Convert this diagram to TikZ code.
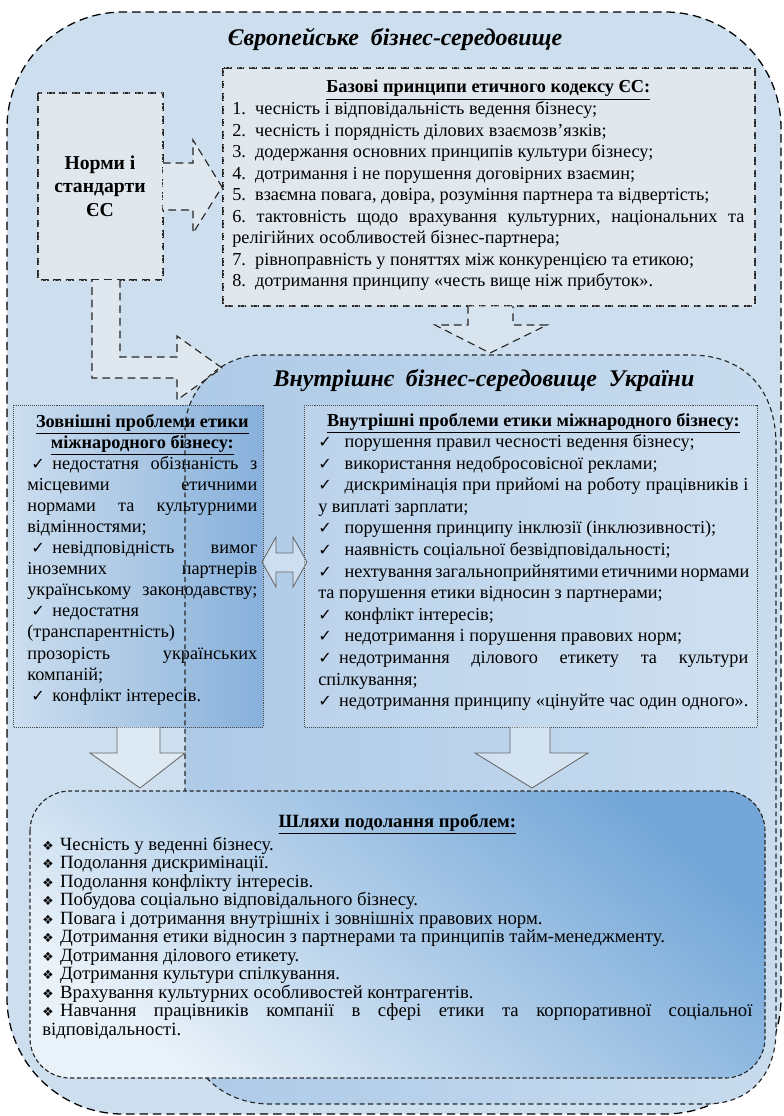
\documentclass[tikz,border=0pt]{standalone}
\usepackage{fontspec}
\setmainfont{Liberation Serif}
\newfontfamily\symfont{DejaVu Sans}
\usetikzlibrary{patterns}
\definecolor{envblue}{HTML}{CDDFEE}
\definecolor{boxgray}{HTML}{E0E8EF}
\definecolor{ukleft}{HTML}{ADCAE7}
\definecolor{ukright}{HTML}{C9DCEE}
\definecolor{leftlight}{HTML}{CCDEEF}
\definecolor{leftdark}{HTML}{84AEDA}
\definecolor{waysdark}{HTML}{74A7D8}
\definecolor{wayslight}{HTML}{EAF2F9}
\newcommand{\rs}{\frenchspacing\spaceskip=0pt\xspaceskip=0pt\relax}
\newcommand{\jline}[1]{\makebox[\linewidth][s]{#1}}
\newcommand{\ck}{{\symfont\fontsize{11.5}{10}\selectfont ✓}\hspace{0.4em}}
\newcommand{\dm}{{\symfont\fontsize{9}{9}\selectfont ❖}\hspace{0.35em}}
\begin{document}
\begin{tikzpicture}[x=0.025cm,y=-0.025cm,
  outerdash/.style={draw=black, line width=0.9pt, dash pattern=on 6pt off 3.5pt},
  ukdash/.style={draw=black!85, line width=0.8pt, dash pattern=on 3.5pt off 2.5pt},
  eudash/.style={draw=black!85, line width=0.8pt, dash pattern=on 5.5pt off 3.5pt},
  pathdash/.style={draw=black!85, line width=0.8pt, dash pattern=on 3pt off 1.8pt},
  dotbox/.style={draw=black!70, line width=0.6pt, dash pattern=on 0.7pt off 0.7pt},
  thinarrow/.style={draw=black!60, line width=0.6pt, fill=white, fill opacity=0.35},
  dots/.style={postaction={pattern=crosshatch dots, pattern color=black!10}},
  txt/.style={inner sep=0pt, anchor=base west, align=left},
  bigtitle/.style={inner sep=0pt, anchor=base, font=\fontsize{17}{20}\selectfont\bfseries\itshape},
]
\useasboundingbox (0,0) rectangle (783,1116);
% outer environment
\filldraw[fill=envblue, outerdash, rounded corners=2.9cm] (7,12) rectangle (781,1114);
\node[bigtitle] (eutitle) at (395,46) {Європейське\ \ бізнес-середовище};
% norms box
\filldraw[fill=boxgray, eudash, dots] (38,93) rectangle (163,280);
\node[inner sep=0pt, align=center, font=\fontsize{14}{16.8}\selectfont\bfseries] (norms) at (100,186) {Норми і\\стандарти\\ЄС};
% arrow norms -> EU principles
\filldraw[fill=boxgray, eudash] (163,163) -- (193,163) -- (193,140) -- (222,187) -- (193,233) -- (193,210) -- (163,210);
% EU principles box
\filldraw[fill=boxgray, eudash, dots] (223,68) rectangle (755,306);
\node[txt, text width=12.8cm, font=\fontsize{13}{15.3}\selectfont] (eutext) at (232,93) {\rs
\makebox[\linewidth][c]{\bfseries\underline{Базові принципи етичного кодексу ЄС:}}\\
1.\ \ чесність і відповідальність ведення бізнесу;\\
2.\ \ чесність і порядність ділових взаємозв’язків;\\
3.\ \ додержання основних принципів культури бізнесу;\\
4.\ \ дотримання і не порушення договірних взаємин;\\
5.\ \ взаємна повага, довіра, розуміння партнера та відвертість;\\
\jline{6. тактовність щодо врахування культурних, національних та}\\
релігійних особливостей бізнес-партнера;\\
7.\ \ рівноправність у поняттях між конкуренцією та етикою;\\
8.\ \ дотримання принципу «честь вище ніж прибуток».};
% Ukraine environment fill
\shade[left color=ukleft, right color=ukright]
  (185,430) .. controls (185,389) and (221,355) .. (262,355) -- (690,355)
  .. controls (745,355) and (776,390) .. (776,445) -- (776,1030)
  .. controls (776,1075) and (750,1104) .. (705,1104) -- (270,1104)
  .. controls (222,1104) and (185,1070) .. (185,1020) -- cycle;
% bent arrow norms -> Ukraine
\filldraw[fill=boxgray, eudash] (120,280) -- (120,357) -- (177,357) -- (177,336) -- (222,368) -- (177,400) -- (177,378) -- (92,378) -- (92,280);
% arrow EU principles -> Ukraine
\filldraw[fill=boxgray, fill opacity=0.6, eudash] (468,306) -- (468,325) -- (435,325) -- (490,353) -- (547,325) -- (513,325) -- (513,306);
\node[bigtitle] (uatitle) at (484,386) {Внутрішнє\ \ бізнес-середовище\ \ України};
% left box (external problems)
\shade[left color=leftlight, right color=leftdark, fill opacity=0.9] (13,405) rectangle (263,727);
\draw[dotbox] (13,405) rectangle (263,727);
% right box (internal problems)
\fill[white, fill opacity=0.12] (304,405) rectangle (757,727);
\draw[dotbox] (304,405) rectangle (757,727);
% double arrow
\filldraw[thinarrow] (262,562) -- (276,537) -- (276,553) -- (293,553) -- (293,537) -- (307,562) -- (293,587) -- (293,572) -- (276,572) -- (276,587) -- cycle;
% down arrows
\filldraw[thinarrow] (117,727) -- (117,753) -- (90,753) -- (140,788) -- (185,753) -- (160,753) -- (160,727);
\filldraw[thinarrow] (510,727) -- (510,753) -- (475,753) -- (532,788) -- (588,753) -- (550,753) -- (550,727);
% Ukraine environment outline
\draw[ukdash]
  (185,430) .. controls (185,389) and (221,355) .. (262,355) -- (690,355)
  .. controls (745,355) and (776,390) .. (776,445) -- (776,1030)
  .. controls (776,1075) and (750,1104) .. (705,1104) -- (270,1104)
  .. controls (222,1104) and (185,1070) .. (185,1020) -- cycle;
\node[txt, text width=5.75cm, font=\fontsize{13}{15.0}\selectfont] (lefttext) at (27,427) {\rs
\makebox[\linewidth][c]{\bfseries\underline{Зовнішні проблеми етики}}\\
\makebox[\linewidth][c]{\bfseries\underline{міжнародного бізнесу:}}\\
\jline{\hspace{3pt}\ck недостатня обізнаність з}\\
\jline{місцевими етичними}\\
\jline{нормами та культурними}\\
відмінностями;\\
\jline{\hspace{3pt}\ck невідповідність вимог}\\
\jline{іноземних партнерів}\\
\jline{українському законодавству;}\\
\hspace{3pt}\ck недостатня\\
(транспарентність)\\
\jline{прозорість українських}\\
компаній;\\
\hspace{3pt}\ck конфлікт інтересів.};
\node[txt, text width=10.75cm, font=\fontsize{13}{15.36}\selectfont] (righttext) at (318,426) {\rs
\makebox[\linewidth][c]{\bfseries\underline{Внутрішні проблеми етики міжнародного бізнесу:}}\\
\ck\hspace{0.3em}порушення правил чесності ведення бізнесу;\\
\ck\hspace{0.3em}використання недобросовісної реклами;\\
\jline{\ck\hspace{0.3em}дискримінація при прийомі на роботу працівників і}\\
у виплаті зарплати;\\
\ck\hspace{0.3em}порушення принципу інклюзії (інклюзивності);\\
\ck\hspace{0.3em}наявність соціальної безвідповідальності;\\
\jline{\ck\hspace{0.3em}нехтування загальноприйнятими етичними нормами}\\
та порушення етики відносин з партнерами;\\
\ck\hspace{0.3em}конфлікт інтересів;\\
\ck\hspace{0.3em}недотримання і порушення правових норм;\\
\jline{\ck недотримання ділового етикету та культури}\\
спілкування;\\
\jline{\ck недотримання принципу «цінуйте час один одного».}};
% ways box
\shadedraw[top color=waysdark, bottom color=wayslight, shading angle=-40, pathdash, rounded corners=1cm] (30,791) rectangle (765,1078);
\node[txt, text width=17.75cm, font=\fontsize{13.3}{13.16}\selectfont] (waystext) at (42,827) {\rs
\makebox[\linewidth][c]{\bfseries\underline{Шляхи подолання проблем:}}\\[1pt]
\dm Чесність у веденні бізнесу.\\
\dm Подолання дискримінації.\\
\dm Подолання конфлікту інтересів.\\
\dm Побудова соціально відповідального бізнесу.\\
\dm Повага і дотримання внутрішніх і зовнішніх правових норм.\\
\dm Дотримання етики відносин з партнерами та принципів тайм-менеджменту.\\
\dm Дотримання ділового етикету.\\
\dm Дотримання культури спілкування.\\
\dm Врахування культурних особливостей контрагентів.\\
\jline{\dm Навчання працівників компанії в сфері етики та корпоративної соціальної}\\
відповідальності.};
\end{tikzpicture}
\end{document}
